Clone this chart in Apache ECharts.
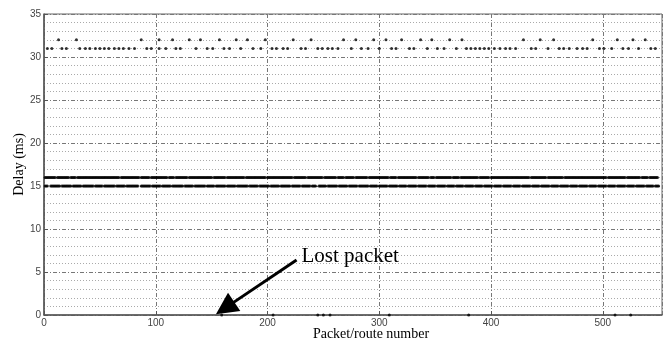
<!DOCTYPE html>
<html>
<head>
<meta charset="utf-8">
<script src="https://cdn.jsdelivr.net/npm/echarts@6/dist/echarts.min.js"></script>
<style>
  html, body { margin: 0; padding: 0; background: #fff; }
  #chart { width: 665px; height: 343px; }
</style>
</head>
<body>
<div id="chart"></div>
<script>
// packets with 32 ms delay
var delay32 = [13, 29, 87, 103, 115, 130, 140, 157, 172, 182, 198, 223, 239, 268, 279, 295, 306,
  320, 337, 347, 363, 374, 429, 444, 456, 491, 513, 527, 538];
// packets with 31 ms delay
var delay31 = [3, 7, 16, 20, 32, 37, 41, 46, 50, 54, 58, 63, 67, 71, 76, 81, 92, 96, 103, 109, 118,
  122, 136, 146, 151, 161, 166, 176, 187, 194, 204, 208, 214, 218, 230, 234, 245, 249, 254, 258,
  263, 275, 284, 290, 300, 311, 315, 327, 331, 343, 352, 358, 369, 378, 382, 386, 390, 394, 398,
  403, 408, 413, 417, 422, 436, 440, 451, 461, 465, 470, 477, 482, 486, 497, 501, 508, 518, 523,
  532, 543, 547];
// runs of packets [first, last] at 16 ms
var runs16 = [[1, 10], [12, 22], [24, 28], [30, 67], [69, 85], [87, 94], [96, 110], [112, 116],
  [118, 128], [130, 150], [152, 162], [164, 179], [181, 198], [200, 222], [224, 234], [236, 249],
  [251, 261], [263, 268], [270, 277], [279, 289], [291, 308], [310, 315], [317, 333], [335, 344],
  [346, 349], [351, 364], [366, 371], [373, 388], [390, 398], [400, 434], [436, 449], [451, 464],
  [466, 503], [505, 520], [522, 533], [535, 540], [542, 549]];
// runs of packets [first, last] at 15 ms
var runs15 = [[1, 3], [6, 14], [16, 24], [26, 33], [35, 44], [46, 52], [54, 63], [65, 72], [74, 84],
  [87, 95], [97, 104], [106, 113], [115, 124], [126, 133], [135, 144], [146, 152], [154, 162],
  [164, 171], [173, 182], [184, 191], [193, 201], [203, 210], [212, 220], [222, 229], [231, 238],
  [240, 243], [246, 252], [254, 262], [264, 271], [273, 280], [282, 290], [292, 298], [300, 307],
  [309, 316], [318, 324], [326, 333], [335, 342], [344, 350], [352, 359], [361, 367], [369, 375],
  [377, 384], [386, 392], [394, 401], [403, 409], [411, 418], [420, 426], [428, 435], [437, 443],
  [445, 452], [454, 460], [462, 469], [471, 477], [479, 486], [488, 494], [496, 503], [505, 511],
  [513, 520], [522, 528], [530, 537], [539, 545], [547, 550]];
// lost packets (0 ms)
var lost = [159, 205, 245, 250, 256, 309, 380, 511, 525];

function pts(xs, y) {
  return xs.map(function (x) { return [x, y]; });
}
function runPts(runs, y) {
  var out = [];
  runs.forEach(function (r) {
    for (var x = r[0]; x <= r[1]; x++) out.push([x, y]);
  });
  return out;
}

var chart = echarts.init(document.getElementById('chart'));
var dot = { type: 'scatter', symbolSize: 3, itemStyle: { color: '#000' }, silent: true };

var option = {
  animation: false,
  grid: {
    left: 44, right: 3, top: 14, bottom: 28, outerBoundsMode: 'none',
    show: true, borderColor: '#666', borderWidth: 1
  },
  xAxis: {
    type: 'value', min: 0, max: 553, interval: 100,
    name: 'Packet/route number', nameLocation: 'middle', nameGap: 12, nameMoveOverlap: false,
    nameTextStyle: { fontFamily: 'Liberation Serif', fontSize: 14, color: '#000', padding: [0, 0, 0, 36] },
    axisLine: { lineStyle: { color: '#555', width: 1.5 } },
    axisTick: { inside: true, length: 4, lineStyle: { color: '#555' } },
    axisLabel: { fontFamily: 'Liberation Sans', fontSize: 10, color: '#444', margin: 3, showMaxLabel: false },
    splitLine: { show: true, lineStyle: { color: '#777', type: [4, 2, 1, 2], width: 1 } }
  },
  yAxis: {
    type: 'value', min: 0, max: 35, interval: 5,
    name: 'Delay (ms)', nameLocation: 'middle', nameGap: 18, nameMoveOverlap: false,
    nameTextStyle: { fontFamily: 'Liberation Serif', fontSize: 14, color: '#000' },
    axisLine: { show: true, lineStyle: { color: '#555', width: 1.5 } },
    axisTick: { show: true, inside: true, length: 4, lineStyle: { color: '#555' } },
    axisLabel: { fontFamily: 'Liberation Sans', fontSize: 10, color: '#444', margin: 3 },
    splitLine: { show: true, lineStyle: { color: '#777', type: [4, 2, 1, 2], width: 1 } },
    minorTick: { show: false, splitNumber: 5 },
    minorSplitLine: { show: true, lineStyle: { color: '#aaa', type: [1, 2], width: 1 } }
  },
  series: [
    Object.assign({}, dot, { data: pts(delay32, 32) }),
    Object.assign({}, dot, { data: pts(delay31, 31) }),
    Object.assign({}, dot, { data: runPts(runs16, 16) }),
    Object.assign({}, dot, { data: runPts(runs15, 15) }),
    Object.assign({}, dot, {
      data: pts(lost, 0),
      clip: false,
      markLine: {
        silent: true, animation: false,
        label: { show: false },
        lineStyle: { color: '#000', width: 3, type: 'solid' },
        itemStyle: { color: '#000' },
        data: [[
          { coord: [226, 6.4], symbol: 'none' },
          { coord: [162, 0.8], symbol: 'triangle', symbolSize: 22 }
        ]]
      },
      markPoint: {
        silent: true, animation: false,
        symbol: 'circle', symbolSize: 1,
        itemStyle: { color: 'rgba(0,0,0,0)' },
        data: [{
          coord: [230, 6.8],
          label: {
            show: true, position: 'right', distance: 0, formatter: 'Lost packet',
            fontFamily: 'Liberation Serif', fontSize: 21, color: '#000'
          }
        }]
      }
    })
  ]
};
chart.setOption(option);
</script>
</body>
</html>
